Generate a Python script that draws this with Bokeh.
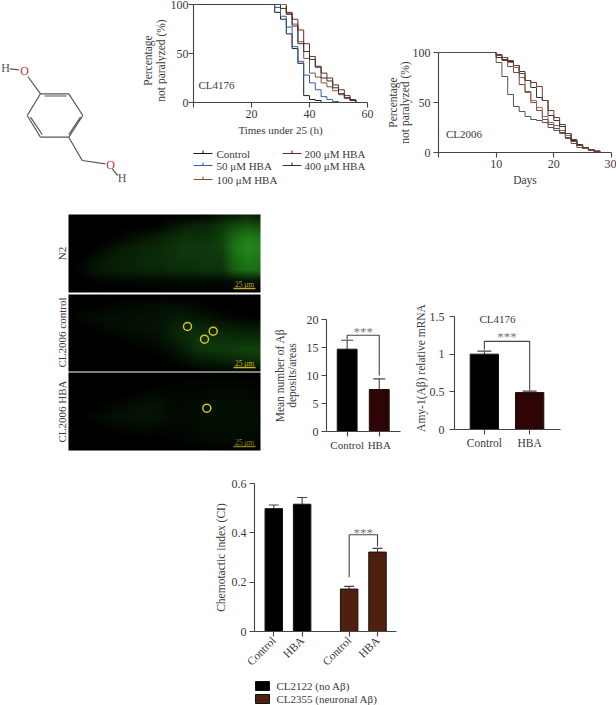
import math
import numpy as np
from bokeh.embed import file_html
from bokeh.resources import INLINE
from bokeh.layouts import column, row
from bokeh.plotting import figure
from bokeh.models import ColumnDataSource, Whisker, TeeHead, Range1d, FixedTicker
from bokeh.core.properties import value

# ---------- data ----------
a_days = [0, 28, 30, 32, 34, 36, 38, 40, 42, 44, 46, 48, 50, 52, 54, 56]
a_control = [100, 92, 85, 70, 55, 40, 7, 3, 2, 0, 0, 0, 0, 0, 0, 0]
a_50 = [100, 97, 88, 77, 57, 42, 28, 20, 13, 6, 3, 1, 0, 0, 0, 0]
a_100 = [100, 100, 100, 91, 80, 62, 45, 30, 26, 20, 16, 12, 8, 4, 2, 0]
a_200 = [100, 100, 100, 92, 85, 74, 60, 47, 37, 30, 25, 18, 13, 7, 3, 0]
a_400 = [100, 100, 96, 90, 78, 60, 52, 44, 36, 25, 22, 15, 9, 5, 2, 0]
a_names = ["Control", "50 μM HBA", "100 μM HBA", "200 μM HBA", "400 μM HBA"]

b_days = [0, 10, 11, 12, 13, 14, 15, 16, 17, 18, 19, 20, 21, 22, 23, 24, 25, 26, 27, 28]
b_1 = [100, 90, 76, 58, 46, 41, 36, 33, 32, 30, 25, 22, 19, 15, 11, 7, 4, 2, 0, 0]
b_2 = [100, 97, 92, 86, 80, 68, 61, 50, 42, 33, 28, 24, 20, 14, 9, 5, 4, 2, 1, 0]
b_3 = [100, 98, 95, 90, 85, 75, 60, 52, 45, 36, 30, 27, 22, 17, 12, 7, 5, 3, 2, 0]
b_4 = [100, 95, 93, 91, 87, 81, 72, 65, 55, 52, 37, 32, 26, 19, 12, 8, 5, 3, 1, 0]
b_5 = [100, 98, 95, 92, 87, 79, 72, 70, 66, 52, 42, 35, 28, 19, 13, 7, 5, 3, 1, 0]

c_labels = ["Control", "HBA"]
c_values = [14.7, 7.5]
c_upper = [16.3, 9.4]
d_values = [1.0, 0.49]
d_upper = [1.04, 0.51]
e_labels = ["Control", "HBA", "Control", "HBA"]
e_values = [0.498, 0.516, 0.172, 0.322]
e_upper = [0.513, 0.543, 0.183, 0.337]
e_names = ["CL2122 (no Aβ)", "CL2355 (neuronal Aβ)"]

# green brightness of the three micrographs
n2_grid = [
    [0, 0, 0, 0, 0, 0, 0, 0, 0, 0, 0, 5, 20, 25, 40, 25],
    [0, 0, 0, 0, 0, 0, 0, 4, 18, 30, 38, 40, 55, 75, 85, 75],
    [0, 0, 0, 0, 6, 14, 22, 30, 40, 48, 48, 50, 65, 105, 125, 115],
    [0, 0, 3, 14, 25, 32, 38, 42, 48, 56, 56, 58, 65, 115, 135, 125],
    [0, 3, 14, 26, 32, 34, 42, 42, 48, 52, 52, 55, 58, 105, 125, 115],
    [0, 8, 22, 30, 30, 34, 38, 38, 44, 44, 48, 52, 50, 95, 110, 105],
    [0, 0, 4, 8, 8, 8, 10, 10, 12, 12, 12, 12, 12, 16, 20, 20],
    [0, 0, 0, 0, 0, 0, 0, 0, 0, 0, 0, 0, 0, 0, 0, 0],
]
ctrl_grid = [
    [0, 0, 0, 0, 0, 0, 0, 0, 0, 0, 0, 0, 0, 0, 0, 0],
    [0, 0, 0, 5, 8, 10, 12, 15, 15, 12, 8, 3, 0, 0, 0, 0],
    [0, 10, 14, 14, 14, 16, 16, 18, 25, 28, 22, 18, 10, 6, 3, 0],
    [0, 0, 5, 12, 14, 16, 18, 20, 32, 40, 40, 35, 30, 28, 25, 25],
    [0, 0, 0, 0, 5, 10, 12, 14, 30, 42, 52, 50, 48, 45, 45, 45],
    [0, 0, 0, 0, 0, 0, 4, 8, 15, 30, 50, 55, 55, 60, 65, 70],
    [0, 0, 0, 0, 0, 0, 0, 0, 5, 15, 25, 30, 35, 40, 45, 45],
    [0, 0, 0, 0, 0, 0, 0, 0, 0, 0, 3, 5, 8, 8, 8, 8],
]
hba_grid = [
    [0, 0, 0, 0, 0, 0, 0, 0, 0, 0, 0, 0, 0, 0, 0, 0],
    [0, 0, 0, 0, 0, 0, 0, 0, 3, 5, 5, 5, 5, 5, 5, 5],
    [0, 0, 0, 0, 0, 3, 8, 10, 8, 8, 8, 10, 10, 10, 10, 8],
    [0, 0, 0, 5, 10, 15, 20, 18, 10, 10, 12, 14, 14, 14, 14, 12],
    [0, 2, 8, 14, 18, 18, 20, 18, 12, 10, 12, 16, 16, 16, 16, 14],
    [0, 0, 0, 5, 8, 10, 12, 10, 8, 8, 10, 14, 14, 14, 14, 12],
    [0, 0, 0, 0, 0, 0, 0, 0, 3, 5, 8, 10, 10, 10, 10, 8],
    [0, 0, 0, 0, 0, 0, 0, 0, 0, 0, 0, 3, 3, 3, 3, 3],
]

# ---------- styling ----------
FONT = "Liberation Serif"
INK = "#3a3a3a"
AXIS = "#444444"
A_COLORS = ["#1c1c1c", "#2f62a8", "#8a5038", "#6e2a22", "#333333"]
E_COLORS = ["#000000", "#50200e"]


def style(p, xticks=None, yticks=None, overrides=None):
    for ax in (p.xaxis[0], p.yaxis[0]):
        ax.axis_line_color = AXIS
        ax.axis_line_width = 1.1
        ax.major_tick_line_color = AXIS
        ax.major_tick_line_width = 1.1
        ax.major_tick_out = 5
        ax.major_tick_in = 0
        ax.minor_tick_line_color = None
        ax.major_label_text_font = FONT
        ax.major_label_text_font_size = "12px"
        ax.major_label_text_color = INK
        ax.major_label_standoff = 3
        ax.axis_label_text_font = FONT
        ax.axis_label_text_font_size = "11.5px"
        ax.axis_label_text_font_style = "normal"
        ax.axis_label_text_color = INK
        ax.axis_label_text_line_height = 1.0
        ax.axis_label_standoff = 3
    p.xaxis[0].major_label_standoff = 2
    p.xaxis[0].ticker = FixedTicker(ticks=xticks)
    p.yaxis[0].ticker = FixedTicker(ticks=yticks)
    if overrides:
        p.xaxis[0].major_label_overrides = overrides
    p.grid.visible = False
    p.outline_line_color = None
    p.background_fill_color = None
    p.border_fill_color = None


def panel(width, height, left, right, top, bottom, xr, yr):
    return figure(width=width, height=height, min_border_left=left, min_border_right=right,
                  min_border_top=top, min_border_bottom=bottom, frame_align=False,
                  x_range=Range1d(*xr), y_range=Range1d(*yr),
                  output_backend="svg", toolbar_location=None)


def blank(width, height):
    p = figure(width=width, height=height, min_border=0, x_range=Range1d(0, width), frame_align=False,
               y_range=Range1d(0, height), output_backend="svg", toolbar_location=None)
    p.axis.visible = False
    p.grid.visible = False
    p.outline_line_color = None
    return p


def label_text(p, x, y, text, size="12px", color=INK, angle=0.0, align="center"):
    p.text([x], [y], text=[text], angle=angle, text_font=value(FONT), text_font_size=value(size),
           text_color=color, text_align=align, text_baseline="middle")


# ---------- molecule (its figure also holds the rotated label of panel A) ----------
mol = blank(167, 200)
bonds = [
    ((40, 93.3), (68.3, 93.3)), ((68.3, 93.3), (82.3, 115)), ((82.3, 115), (68.3, 136.7)),
    ((68.3, 136.7), (40, 136.7)), ((40, 136.7), (26.7, 115)), ((26.7, 115), (40, 93.3)),
    ((44, 95.5), (66, 95.5)), ((80, 116.7), (68.3, 134)), ((30, 116.7), (41.7, 134)),
    ((27.3, 76), (40, 93.3)), ((9.3, 68.3), (18.3, 69.3)),
    ((68.3, 136.7), (81.7, 160)), ((81.7, 160), (105, 163.3)), ((111.7, 168.3), (117.3, 175)),
]
for (x0, y0), (x1, y1) in bonds:
    mol.line([x0, x1], [200 - y0, 200 - y1], line_color="#555555", line_width=1.2)
for x, y, t, c in [(24, 70.7, "O", "#c03030"), (5, 67.7, "H", "#555555"),
                   (110, 164.3, "O", "#c03030"), (121.7, 177.7, "H", "#555555")]:
    label_text(mol, x, 200 - y, t, "12px", c)
label_text(mol, 147.5, 200 - 60, "Percentage", "11.5px", angle=math.pi / 2)
label_text(mol, 160.5, 200 - 60, "not paralyzed (%)", "11.5px", angle=math.pi / 2)

# ---------- panel A ----------
pa = panel(208, 146, 26, 8, 4, 44, (0, 60), (0, 100))
style(pa, [0, 20, 40, 60], [0, 50, 100], {0: ""})
pa.yaxis[0].major_label_standoff = 0
pa.xaxis[0].axis_label = "Times under 25 (h)"
pa.xaxis[0].axis_label_text_font_size = "11px"
for ys, col in zip([a_control, a_50, a_100, a_200, a_400], A_COLORS):
    pa.step(a_days, ys, mode="after", line_color=col, line_width=1.0)
label_text(pa, 1.7, 18, "CL4176", "11px", align="left")

# legend keys of panel A, in a figure of their own under it (figure x = page x - 167, y = 200 - page y)
la = blank(208, 54)
slots = [(26, 49, 47), (26, 49, 35), (26, 49, 21), (115, 137, 47), (115, 137, 35)]
for (x0, tx, y), n, c in zip(slots, a_names, A_COLORS):
    la.line([x0, x0 + 19], [y, y], line_color=c, line_width=1.1)
    la.line([x0 + 9.5, x0 + 9.5], [y, y + 3], line_color=c, line_width=1.1)
    label_text(la, tx, y, n, "11px", align="left")

# ---------- panel B ----------
pb = panel(241, 200, 63, 5, 52, 48, (0, 30), (0, 100))
style(pb, [0, 10, 20, 30], [0, 50, 100], {0: ""})
pb.xaxis[0].axis_label = "Days"
pb.yaxis[0].axis_label = "Percentage\nnot paralyzed (%)"
pb.yaxis[0].axis_label_standoff = -1
for ys, col in zip([b_1, b_2, b_3, b_4, b_5], ["#555555", "#7a4a38", "#9a6a58", "#2e3a34", "#6e3a30"]):
    pb.step(b_days, ys, mode="after", line_color=col, line_width=1.0)
label_text(pb, 1.3, 19, "CL2006", "11px", align="left")

# ---------- micrographs ----------
mic = blank(270, 255)
MIC_H = 455


def upsample(grid, w, h):
    g = np.array(grid, dtype=float)
    xs = np.linspace(0, g.shape[1] - 1, w)
    ys = np.linspace(0, g.shape[0] - 1, h)
    wide = np.array([np.interp(xs, np.arange(g.shape[1]), r) for r in g])
    return np.array([np.interp(ys, np.arange(g.shape[0]), c) for c in wide.T]).T


def rgba(grid, w, h):
    v = upsample(grid, w, h)[::-1]
    img = np.zeros((h, w), dtype=np.uint32)
    view = img.view(dtype=np.uint8).reshape((h, w, 4))
    view[..., 0] = (v * 0.25).astype(np.uint8)
    view[..., 1] = v.astype(np.uint8)
    view[..., 2] = (v * 0.2).astype(np.uint8)
    view[..., 3] = 255
    return img


panels = [(n2_grid, 214, 292, "N2", 253, "#c0a41c"),
          (ctrl_grid, 294, 371, "CL2006 control", 332, "#c8b01c"),
          (hba_grid, 372, 450, "CL2006 HBA", 411, "#8f7e14")]
for grid, y0, y1, lab, yc, bar in panels:
    h = y1 - y0
    mic.image_rgba(image=[rgba(grid, 192, h)], x=68, y=MIC_H - y1, dw=192, dh=h)
    mic.line([233, 255], [MIC_H - y1 + 4, MIC_H - y1 + 4], line_color=bar, line_width=1.6)
    label_text(mic, 244, MIC_H - y1 + 8, "25 μm", "7.5px", bar)
    label_text(mic, 61.5, MIC_H - yc, lab, "11px", angle=math.pi / 2)
mic.scatter([187, 212.7, 204, 206.3], [MIC_H - v for v in [326, 330.7, 338.7, 407.7]], size=8,
            marker="circle", fill_color=None, line_color="#d8c41c", line_width=1.5)


# ---------- bars ----------
def bars(p, xs, vals, ups, colors, width, head):
    src = ColumnDataSource(dict(x=xs, v=vals, u=ups, c=colors))
    p.add_layout(Whisker(base="x", upper="u", lower="v", source=src, line_color=AXIS, line_width=1.1,
                         upper_head=TeeHead(size=head, line_color=AXIS, line_width=1.1), lower_head=None))
    p.vbar(x="x", top="v", width=width, bottom=0, fill_color="c", line_color="#111111", source=src)


def bracket(p, x0, x1, y0, top, y1, star_y):
    p.line([x0, x0, x1, x1], [y0, top, top, y1], line_color=AXIS, line_width=1.1)
    p.text([(x0 + x1) / 2], [star_y], text=["***"], text_font=value(FONT), text_font_size=value("13px"),
           text_color="#777777", text_align="center", text_baseline="middle")


c_x = [1, 2]
pc = panel(140, 255, 52, 10, 119, 24, (0.356, 2.662), (0, 20))
style(pc, c_x, [0, 5, 10, 15, 20], {1: c_labels[0], 2: c_labels[1]})
pc.xaxis[0].major_label_text_font_size = "11px"
pc.yaxis[0].axis_label = "Mean number of Aβ\ndeposits/areas"
pc.yaxis[0].axis_label_standoff = 6
bars(pc, c_x, c_values, c_upper, ["#000000", "#2e0505"], 0.618, 12)
bracket(pc, 1, 2, 16.4, 17.2, 10.0, 17.9)

# the range reaches above the last tick, the axis stops there, so that the title fits inside
pd = panel(206, 255, 44, 56, 106, 26, (0.341, 2.681), (0, 1.633))
style(pd, c_x, [0, 0.5, 1.0, 1.5], {1: c_labels[0], 2: c_labels[1]})
pd.yaxis[0].bounds = (0, 1.5)
pd.yaxis[0].major_label_standoff = 5
pd.yaxis[0].axis_label_standoff = 0
pd.xaxis[0].major_label_text_font_size = "11.5px"
pd.yaxis[0].axis_label = "Amy-1(Aβ) relative mRNA"
bars(pd, c_x, d_values, d_upper, ["#000000", "#2e0505"], 0.625, 14)
bracket(pd, 1, 2, 1.06, 1.17, 0.52, 1.23)
label_text(pd, 1.29, 1.464, "CL4176", "11px")

# ---------- panel E ----------
e_x = [1, 2, 3.66, 4.66]
pe = panel(616, 220, 254, 220, 28, 44, (0.32, 5.33), (0, 0.6))
style(pe, e_x, [0, 0.2, 0.4, 0.6], {1: e_labels[0], 2: e_labels[1], 3.66: e_labels[2], 4.66: e_labels[3]})
pe.xaxis[0].major_label_orientation = math.pi / 4
pe.xaxis[0].major_label_text_font_size = "11.5px"
pe.yaxis[0].axis_label = "Chemotactic index (CI)"
pe.yaxis[0].axis_label_standoff = 2
src1 = ColumnDataSource(dict(x=e_x[:2], v=e_values[:2], u=e_upper[:2]))
src2 = ColumnDataSource(dict(x=e_x[2:], v=e_values[2:], u=e_upper[2:]))
for src, col in zip([src1, src2], E_COLORS):
    pe.add_layout(Whisker(base="x", upper="u", lower="v", source=src, line_color=AXIS, line_width=1.1,
                          upper_head=TeeHead(size=10, line_color=AXIS, line_width=1.1), lower_head=None))
    pe.vbar(x="x", top="v", width=0.616, bottom=0, fill_color=col, line_color="#111111", source=src)
bracket(pe, 3.66, 4.66, 0.22, 0.392, 0.345, 0.403)

# legend keys of panel E (figure y = 705 - page y)
le = blank(616, 30)
for y, n, c in zip([19.5, 6.5], e_names, E_COLORS):
    le.rect([262], [y], width=14, height=9, fill_color=c, line_color="#111111")
    label_text(le, 276, y, n, "11px", align="left")

page = column(row(mol, column(pa, la), pb), row(mic, pc, pd), pe, le)
open("out.html", "w").write(file_html(page, INLINE))
